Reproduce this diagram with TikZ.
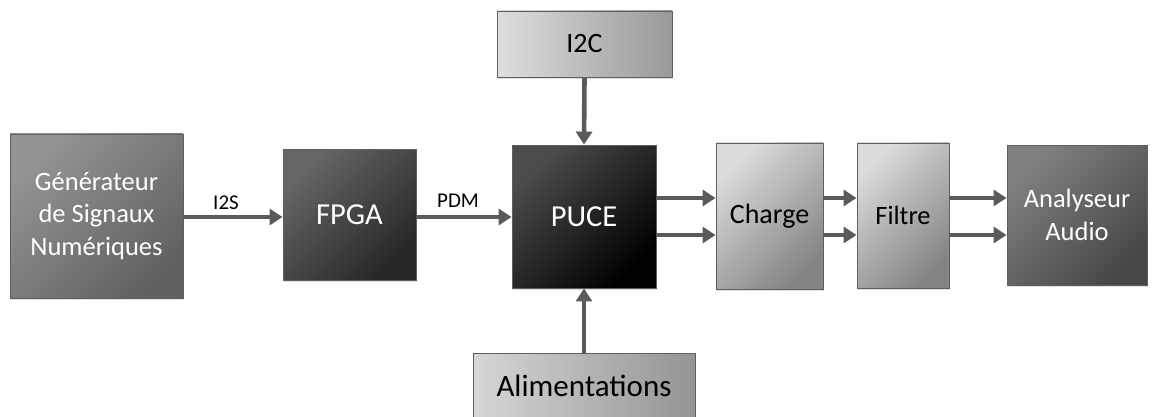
\documentclass[tikz,border=0pt]{standalone}
\usepackage{fontspec}
\setmainfont{Carlito}
\usetikzlibrary{arrows.meta,shadows}
\definecolor{arrgray}{HTML}{5A5A5A}
\definecolor{edgegray}{HTML}{5F5F5F}
\begin{document}
\begin{tikzpicture}[x=1pt,y=-1pt,
  blk/.style={draw=edgegray, line width=0.9pt, inner sep=0pt, align=center,
    drop shadow={shadow xshift=1.2pt, shadow yshift=-1.6pt, opacity=0.25}},
  darkblk/.style={blk, text=white},
  lightblk/.style={blk, text=black},
  big/.style={font=\fontsize{26.5}{32.5}\selectfont},
  arr/.style={draw=arrgray, line width=4.6pt, -{Triangle[length=13pt,width=16pt]}},
  lbl/.style={font=\fontsize{21}{24}\selectfont, inner sep=0pt, anchor=base}
]
\clip (0,0) rectangle (1156,417);
\fill[white] (0,0) rectangle (1156,417);

\node[darkblk, big, minimum width=173pt, minimum height=164pt,
  top color=black!42, bottom color=black!62, shading angle=45]
  (gen) at (96.5,216) {Générateur\\de Signaux\\Numériques};
\node[darkblk, font=\fontsize{30.5}{34}\selectfont, minimum width=133pt, minimum height=131pt,
  top color=black!60, bottom color=black!85, shading angle=45]
  (fpga) at (349.5,214.5) {FPGA};
\node[darkblk, font=\fontsize{30.5}{34}\selectfont, minimum width=144pt, minimum height=143pt,
  top color=black!70, bottom color=black, shading angle=45]
  (puce) at (584,216.5) {PUCE};
\node[lightblk, font=\fontsize{28}{32}\selectfont, minimum width=175pt, minimum height=66pt,
  left color=black!13, right color=black!40]
  (i2c) at (584.5,44) {I2C};
\node[lightblk, font=\fontsize{31}{34}\selectfont, minimum width=222pt, minimum height=66pt,
  left color=black!16, right color=black!42]
  (alim) at (584,386) {Alimentations};
\node[lightblk, font=\fontsize{28}{32}\selectfont, minimum width=107pt, minimum height=146pt,
  top color=black!14, bottom color=black!48, shading angle=45]
  (charge) at (769.5,216) {Charge};
\node[lightblk, big, minimum width=92pt, minimum height=145pt,
  top color=black!14, bottom color=black!48, shading angle=45]
  (filtre) at (903,215.5) {Filtre};
\node[darkblk, big, minimum width=140pt, minimum height=140pt,
  top color=black!50, bottom color=black!72, shading angle=45]
  (ana) at (1077,215) {Analyseur\\Audio};

\coordinate (hM) at (0,217);
\coordinate (hA) at (0,198);
\coordinate (hB) at (0,235);

\draw[arr] (gen.east |- hM) -- (fpga.west |- hM);
\draw[arr] (fpga.east |- hM) -- (puce.west |- hM);
\draw[arr] (i2c.south) -- (puce.north);
\draw[arr] (alim.north) -- (puce.south);
\draw[arr] (puce.east |- hA) -- (charge.west |- hA);
\draw[arr] (puce.east |- hB) -- (charge.west |- hB);
\draw[arr] (charge.east |- hA) -- (filtre.west |- hA);
\draw[arr] (charge.east |- hB) -- (filtre.west |- hB);
\draw[arr] (filtre.east |- hA) -- (ana.west |- hA);
\draw[arr] (filtre.east |- hB) -- (ana.west |- hB);

\node[lbl] (li2s) at (226,209) {I2S};
\node[lbl] (lpdm) at (458,207) {PDM};
\end{tikzpicture}
\end{document}
